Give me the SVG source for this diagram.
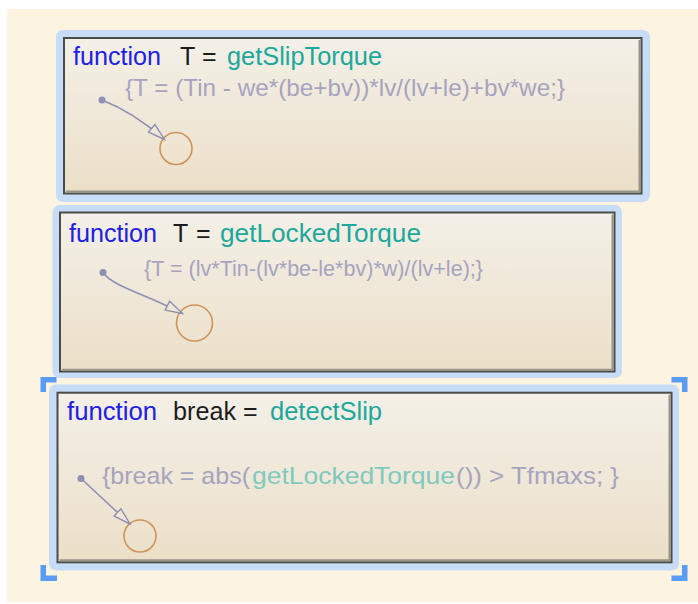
<svg xmlns="http://www.w3.org/2000/svg" width="698" height="604" viewBox="0 0 698 604">
<defs>
<linearGradient id="fillg" x1="0" y1="0" x2="0" y2="1">
<stop offset="0" stop-color="#f4f0e8"/>
<stop offset="1" stop-color="#ebdfc7"/>
</linearGradient>
<marker id="arr" markerUnits="userSpaceOnUse" markerWidth="20" markerHeight="14" refX="18" refY="6.5" orient="auto">
<path d="M1,1.5 L18,6.5 L1,11.5 Z" fill="#efe7d8" stroke="#8d8fb3" stroke-width="1.4"/>
</marker>
<style>
.halo{fill:#c7dcf6}
.inner{fill:url(#fillg);stroke:#4b4b48;stroke-width:2}
.shade{fill:none;stroke:#9a958a;stroke-width:2}
.t{font-family:"Liberation Sans",Arial,sans-serif;font-size:25px}
.kw{fill:#2020e4}
.id{fill:#1c1c1c}
.fn{fill:#1ca89b}
.code{font-family:"Liberation Sans",Arial,sans-serif;font-size:24px;fill:#a6a4bf}
.codefn{fill:#7fcabf}
.junc{fill:none;stroke:#d0945a;stroke-width:1.6}
.tr{fill:none;stroke:#8d8fb3;stroke-width:1.5;marker-end:url(#arr)}
.dot{fill:#8d8fb3}
.sel{fill:#5a9cf5}
</style>
</defs>
<rect x="0" y="0" width="698" height="604" fill="#ffffff"/>
<rect x="7" y="9" width="691" height="593" fill="#fdf3e1"/>

<g id="getSlipTorque">
<rect class="halo" x="56" y="30" width="594" height="172" rx="7"/>
<rect class="inner" x="64" y="38" width="577.5" height="155.5"/>
<path class="shade" d="M639.5,40 V191.5 H66"/>
<text class="t" y="65"><tspan class="kw" x="73" textLength="88" lengthAdjust="spacingAndGlyphs">function</tspan><tspan class="id" x="180">T</tspan><tspan class="id" x="202">=</tspan><tspan class="fn" x="227" textLength="155" lengthAdjust="spacingAndGlyphs">getSlipTorque</tspan></text>
<text class="code" x="125" y="96" textLength="440" lengthAdjust="spacingAndGlyphs">{T = (Tin - we*(be+bv))*lv/(lv+le)+bv*we;}</text>
<circle class="junc" cx="176" cy="148.5" r="16"/>
</g>

<g id="getLockedTorque">
<rect class="halo" x="52.5" y="205" width="569.5" height="173" rx="7"/>
<rect class="inner" x="60" y="212.5" width="554.5" height="159"/>
<path class="shade" d="M612.5,214.5 V369.7 H62"/>
<text class="t" y="241.5"><tspan class="kw" x="69" textLength="88" lengthAdjust="spacingAndGlyphs">function</tspan><tspan class="id" x="173">T</tspan><tspan class="id" x="196">=</tspan><tspan class="fn" x="220" textLength="201" lengthAdjust="spacingAndGlyphs">getLockedTorque</tspan></text>
<text class="code" style="font-size:21.5px" x="144" y="276" textLength="339" lengthAdjust="spacingAndGlyphs">{T = (lv*Tin-(lv*be-le*bv)*w)/(lv+le);}</text>
<circle class="junc" cx="194.5" cy="323" r="18"/>
</g>

<g id="detectSlip">
<rect class="halo" x="49" y="384.5" width="630" height="186" rx="7"/>
<rect class="inner" x="57.5" y="392.7" width="614" height="169.6"/>
<path class="shade" d="M669.5,394.7 V560.3 H59.5"/>
<text class="t" y="420"><tspan class="kw" x="67" textLength="90" lengthAdjust="spacingAndGlyphs">function</tspan><tspan class="id" x="173" textLength="63" lengthAdjust="spacingAndGlyphs">break</tspan><tspan class="id" x="243">=</tspan><tspan class="fn" x="270" textLength="112" lengthAdjust="spacingAndGlyphs">detectSlip</tspan></text>
<text class="code" y="484"><tspan x="102" textLength="148" lengthAdjust="spacingAndGlyphs">{break = abs(</tspan><tspan class="codefn" x="252" textLength="203" lengthAdjust="spacingAndGlyphs">getLockedTorque</tspan><tspan x="456" textLength="163" lengthAdjust="spacingAndGlyphs">()) &gt; Tfmaxs; }</tspan></text>
<circle class="junc" cx="140" cy="536" r="16"/>
<path class="sel" d="M40.5,377 H56.5 V382.5 H46 V392 H40.5 Z"/>
<path class="sel" d="M687.5,377 H671.5 V382.5 H682 V392 H687.5 Z"/>
<path class="sel" d="M40.5,581 H57 V575.5 H46 V565 H40.5 Z"/>
<path class="sel" d="M687.5,581 H671.5 V575.5 H682 V565 H687.5 Z"/>
</g>

<g id="connectors">
<circle class="dot" cx="102" cy="100" r="3.5"/>
<path class="tr" d="M102,100 C120,107 140,118 164.5,139.5"/>
<circle class="dot" cx="103" cy="272.5" r="3.5"/>
<path class="tr" d="M103,272.5 C112,286 145,294 182.5,313.5"/>
<circle class="dot" cx="81" cy="478.5" r="3.5"/>
<path class="tr" d="M81,478.5 L130,524"/>
</g>
</svg>
